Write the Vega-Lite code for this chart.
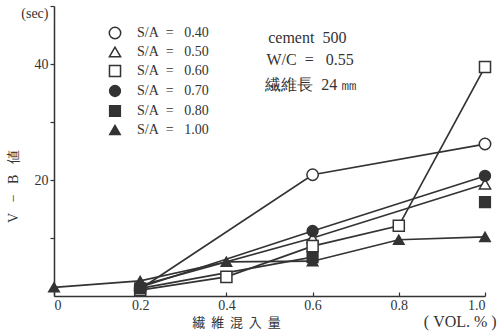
{
  "$schema": "https://vega.github.io/schema/vega-lite/v6.json",
  "width": 431,
  "height": 290,
  "autosize": {"type": "none"},
  "padding": {"left": 54, "top": 6, "right": 15, "bottom": 35},
  "background": "white",
  "config": {
    "view": {"stroke": null},
    "font": "Liberation Serif",
    "text": {"font": "Liberation Serif"},
    "axis": {"domainColor": "#333", "tickColor": "#333", "labelColor": "#333", "titleColor": "#333", "domainWidth": 1.5, "tickWidth": 1.2, "labelFont": "Liberation Serif", "titleFont": "Liberation Serif", "labelFontSize": 14, "grid": false},
    "legend": {"labelFont": "Liberation Serif"}
  },
  "datasets": {
    "pts": [
      {"vol": 0.2, "vb": 1.2, "sa": "0.40", "connected": true},
      {"vol": 0.6, "vb": 20.9, "sa": "0.40", "connected": true},
      {"vol": 1.0, "vb": 26.2, "sa": "0.40", "connected": true},
      {"vol": 0.2, "vb": 1.8, "sa": "0.50", "connected": true},
      {"vol": 0.6, "vb": 10.0, "sa": "0.50", "connected": true},
      {"vol": 1.0, "vb": 19.3, "sa": "0.50", "connected": true},
      {"vol": 0.2, "vb": 1.0, "sa": "0.60", "connected": true},
      {"vol": 0.4, "vb": 3.3, "sa": "0.60", "connected": true},
      {"vol": 0.6, "vb": 8.6, "sa": "0.60", "connected": true},
      {"vol": 0.8, "vb": 12.1, "sa": "0.60", "connected": true},
      {"vol": 1.0, "vb": 39.5, "sa": "0.60", "connected": true},
      {"vol": 0.2, "vb": 1.5, "sa": "0.70", "connected": true},
      {"vol": 0.6, "vb": 11.2, "sa": "0.70", "connected": true},
      {"vol": 1.0, "vb": 20.7, "sa": "0.70", "connected": true},
      {"vol": 0.2, "vb": 1.3, "sa": "0.80", "connected": true},
      {"vol": 0.6, "vb": 6.7, "sa": "0.80", "connected": true},
      {"vol": 1.0, "vb": 16.2, "sa": "0.80", "connected": false},
      {"vol": 0.0, "vb": 1.5, "sa": "1.00", "connected": true},
      {"vol": 0.2, "vb": 2.6, "sa": "1.00", "connected": true},
      {"vol": 0.4, "vb": 5.9, "sa": "1.00", "connected": true},
      {"vol": 0.6, "vb": 6.0, "sa": "1.00", "connected": true},
      {"vol": 0.8, "vb": 9.7, "sa": "1.00", "connected": true},
      {"vol": 1.0, "vb": 10.2, "sa": "1.00", "connected": true}
    ],
    "notes": [
      {"vol": 0.497, "vb": 44.5, "text": "cement\u00a0\u00a0500"},
      {"vol": 0.493, "vb": 40.7, "text": "W/C\u00a0\u00a0=\u00a0\u00a0\u00a00.55"},
      {"vol": 0.490, "vb": 36.4, "text": "繊維長\u00a0\u00a024\u00a0㎜"},
      {"vol": 0.858, "vb": -4.5, "text": "(\u00a0VOL.\u00a0%\u00a0)"}
    ]
  },
  "layer": [
    {
      "data": {"name": "pts"},
      "transform": [{"filter": "datum.connected"}],
      "mark": {"type": "line", "color": "#333", "strokeWidth": 1.7},
      "encoding": {
        "x": {
          "field": "vol", "type": "quantitative",
          "scale": {"domain": [0, 1], "nice": false, "zero": false},
          "axis": {
            "values": [0, 0.2, 0.4, 0.6, 0.8, 1.0],
            "labelExpr": "datum.value == 0 ? '0' : format(datum.value, '.1f')",
            "tickSize": -4, "labelPadding": 6,
            "title": "繊\u00a0\u00a0維\u00a0\u00a0混\u00a0\u00a0入\u00a0\u00a0量", "titleFont": "Noto Sans CJK JP", "titleFontSize": 13, "titleFontWeight": "normal",
            "titleX": 182, "titleY": 26, "titleAlign": "center", "titleBaseline": "middle"
          }
        },
        "y": {
          "field": "vb", "type": "quantitative",
          "scale": {"domain": [0, 50], "nice": false},
          "axis": {
            "values": [10, 20, 30, 40, 50],
            "labelExpr": "datum.value == 50 ? '(sec)' : (datum.value == 20 || datum.value == 40) ? datum.label : ''",
            "labelBaseline": {"condition": {"test": "datum.value == 50", "value": "top"}, "value": "middle"},
            "tickSize": 4, "labelPadding": 2,
            "title": "V\u00a0\u00a0\u00a0−\u00a0\u00a0\u00a0B\u00a0\u00a0\u00a0値", "titleFontSize": 14, "titleFontWeight": "normal",
            "titleX": -41, "titleY": 180, "titleAlign": "center", "titleBaseline": "middle"
          }
        },
        "detail": {"field": "sa"}
      }
    },
    {
      "data": {"name": "pts"},
      "mark": {"type": "point", "filled": true, "stroke": "#333", "strokeWidth": 1.5, "opacity": 1},
      "encoding": {
        "x": {"field": "vol", "type": "quantitative"},
        "y": {"field": "vb", "type": "quantitative"},
        "shape": {
          "field": "sa", "type": "nominal",
          "scale": {"domain": ["0.40", "0.50", "0.60", "0.70", "0.80", "1.00"], "range": ["circle", "triangle-up", "square", "circle", "square", "triangle-up"]},
          "legend": {
            "title": null, "orient": "none", "legendX": 54, "legendY": 20,
            "labelExpr": "'S/A\u00a0\u00a0=\u00a0\u00a0\u00a0' + datum.label",
            "labelFont": "Liberation Serif", "labelFontSize": 14, "labelColor": "#333",
            "rowPadding": 2, "labelOffset": 15, "symbolStrokeWidth": 1.5
          }
        },
        "fill": {
          "field": "sa", "type": "nominal",
          "scale": {"domain": ["0.40", "0.50", "0.60", "0.70", "0.80", "1.00"], "range": ["white", "white", "white", "#333", "#333", "#333"]}
        },
        "size": {
          "field": "sa", "type": "nominal",
          "scale": {"domain": ["0.40", "0.50", "0.60", "0.70", "0.80", "1.00"], "range": [130, 110, 130, 55, 60, 60]}
        }
      }
    },
    {
      "data": {"name": "notes"},
      "mark": {"type": "text", "align": "left", "baseline": "middle", "fontSize": 16, "color": "#333", "font": "Liberation Serif"},
      "encoding": {
        "x": {"field": "vol", "type": "quantitative"},
        "y": {"field": "vb", "type": "quantitative"},
        "text": {"field": "text"}
      }
    }
  ]
}
